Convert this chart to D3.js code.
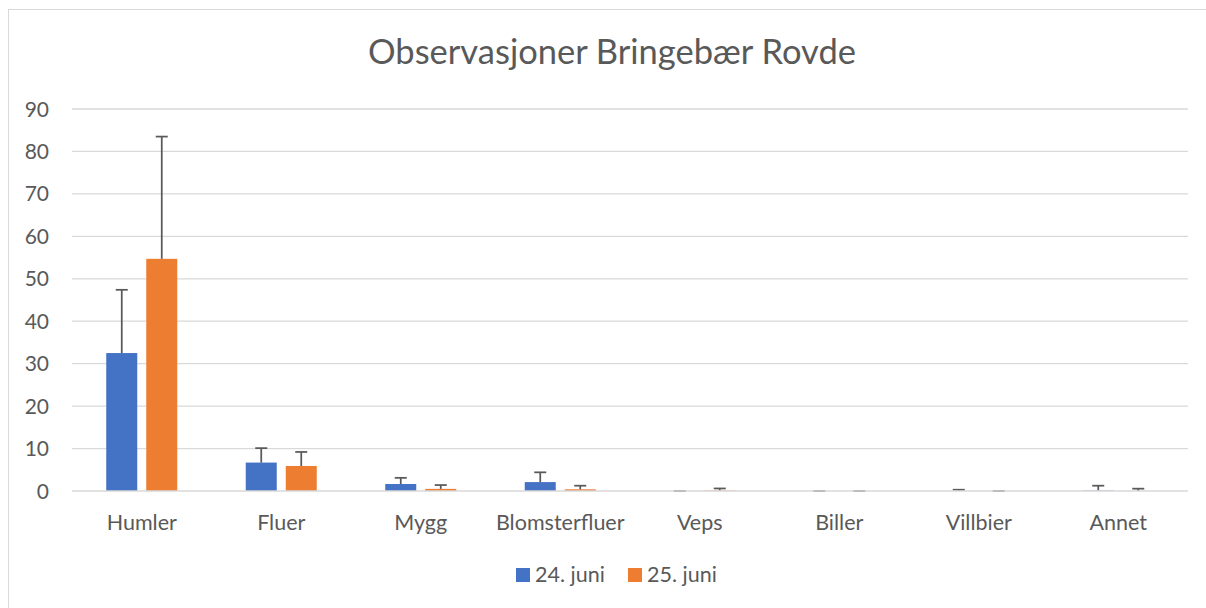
<!DOCTYPE html>
<html>
<head>
<meta charset="utf-8">
<script src="https://cdn.jsdelivr.net/npm/d3@7"></script>
<style>
  html, body { margin: 0; padding: 0; background: #fff; }
  svg { display: block; font-family: Lato, "Open Sans", sans-serif; }
</style>
</head>
<body>
<svg id="chart" width="1206" height="608"></svg>
<script>
// data
var categories = ["Humler", "Fluer", "Mygg", "Blomsterfluer", "Veps", "Biller", "Villbier", "Annet"];
var seriesNames = ["24. juni", "25. juni"];
var juni24 = [32.5, 6.7, 1.65, 2.1, 0, 0, 0, 0.1];
var juni25 = [54.7, 5.9, 0.5, 0.4, 0.1, 0, 0, 0];
var err24 = [14.9, 3.4, 1.45, 2.3, 0, 0, 0.3, 1.15];
var err25 = [28.8, 3.3, 0.9, 0.85, 0.5, 0, 0, 0.55];
var yTicks = [0, 10, 20, 30, 40, 50, 60, 70, 80, 90];
var colors = ["#4472C4", "#ED7D31"];

var svg = d3.select("#chart");
var plotLeft = 72, plotRight = 1188, plotTop = 109, plotBottom = 491;
var textColor = "#595959";

// chart border
svg.append("rect")
    .attr("x", 8.5).attr("y", 9.5)
    .attr("width", 1210).attr("height", 610)
    .attr("fill", "#fff").attr("stroke", "#D9D9D9").attr("stroke-width", 1);

var x0 = d3.scaleBand().domain(categories).range([plotLeft, plotRight]).padding(0);
var x1 = d3.scaleBand().domain(seriesNames).range([-35.5, 35.5]).paddingInner(0.225).paddingOuter(0);
var y = d3.scaleLinear().domain([0, 90]).range([plotBottom, plotTop]);

// gridlines
svg.append("g").selectAll("line").data(yTicks.filter(function (d) { return d > 0; }))
    .enter().append("line")
    .attr("x1", plotLeft).attr("x2", plotRight)
    .attr("y1", function (d) { return y(d); }).attr("y2", function (d) { return y(d); })
    .attr("stroke", "#D9D9D9").attr("stroke-width", 1.3);

// y tick labels
svg.append("g").selectAll("text").data(yTicks).enter().append("text")
    .attr("x", 49).attr("y", function (d) { return y(d); })
    .attr("dy", "0.36em")
    .attr("text-anchor", "end")
    .attr("fill", textColor).attr("font-size", 21)
    .text(function (d) { return d; });

// bars
var rows = categories.map(function (c, i) {
    return [
        { cat: c, s: seriesNames[0], v: juni24[i], e: err24[i], color: colors[0] },
        { cat: c, s: seriesNames[1], v: juni25[i], e: err25[i], color: colors[1] }
    ];
});
var flat = [].concat.apply([], rows);

function cx(d) { return x0(d.cat) + x0.bandwidth() / 2 + x1(d.s); }

svg.append("g").selectAll("rect").data(flat).enter().append("rect")
    .attr("x", cx)
    .attr("y", function (d) { return y(d.v); })
    .attr("width", x1.bandwidth())
    .attr("height", function (d) { return y(0) - y(d.v); })
    .attr("fill", function (d) { return d.color; });

// error bars (plus only)
var eg = svg.append("g").attr("stroke", "#595959").attr("stroke-width", 1.75);
flat.forEach(function (d) {
    var mx = cx(d) + x1.bandwidth() / 2;
    var yt = y(d.v + d.e);
    eg.append("line").attr("x1", mx).attr("x2", mx).attr("y1", y(d.v)).attr("y2", yt);
    eg.append("line").attr("x1", mx - 6).attr("x2", mx + 6).attr("y1", yt).attr("y2", yt);
});

// zero axis line
svg.append("line")
    .attr("x1", plotLeft).attr("x2", plotRight)
    .attr("y1", y(0)).attr("y2", y(0))
    .attr("stroke", "#D9D9D9").attr("stroke-width", 1.5);

// category labels
svg.append("g").selectAll("text").data(categories).enter().append("text")
    .attr("x", function (d) { return x0(d) + x0.bandwidth() / 2; })
    .attr("y", 530)
    .attr("text-anchor", "middle")
    .attr("fill", textColor).attr("font-size", 21.5)
    .text(function (d) { return d; });

// title
svg.append("text")
    .attr("x", 612).attr("y", 64)
    .attr("text-anchor", "middle")
    .attr("fill", textColor).attr("font-size", 34.5)
    .text("Observasjoner Bringebær Rovde");

// legend
var legend = svg.append("g");
var lx = [516, 628];
seriesNames.forEach(function (s, i) {
    legend.append("rect")
        .attr("x", lx[i]).attr("y", 568)
        .attr("width", 14).attr("height", 14)
        .attr("fill", colors[i]);
    legend.append("text")
        .attr("x", lx[i] + 19).attr("y", 582)
        .attr("fill", textColor).attr("font-size", 21.5)
        .text(s);
});
</script>
</body>
</html>
